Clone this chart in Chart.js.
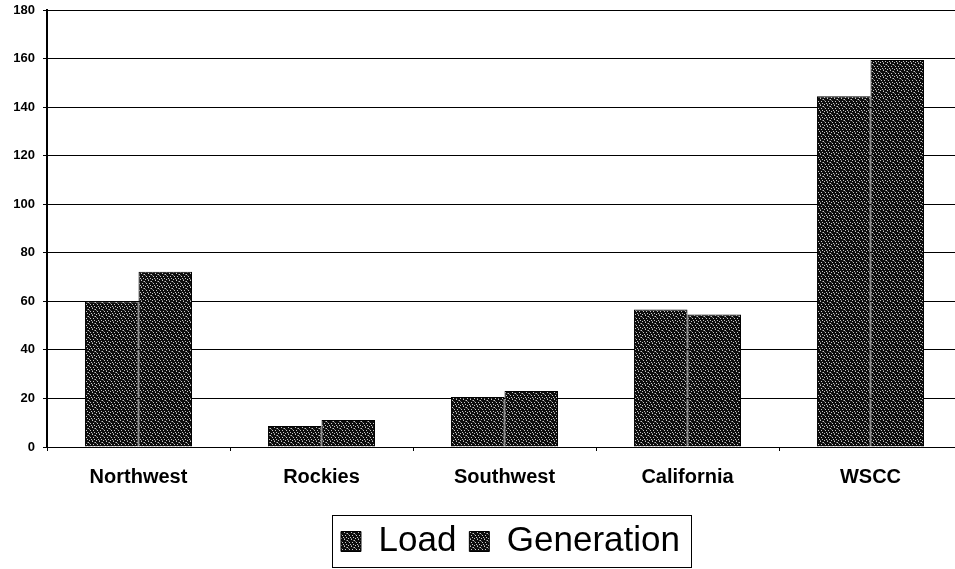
<!DOCTYPE html>
<html>
<head>
<meta charset="utf-8">
<script src="https://cdn.jsdelivr.net/npm/chart.js@4/dist/chart.umd.min.js"></script>
<style>
html,body{margin:0;padding:0;background:#fff;overflow:hidden;}
#wrap{width:955px;height:569px;position:relative;overflow:hidden;}
#c{position:absolute;left:0;top:0;}
</style>
</head>
<body>
<div id="wrap"><canvas id="c" width="962" height="569"></canvas></div>
<script>
const categories = ["Northwest", "Rockies", "Southwest", "California", "WSCC"];
const loadValues = [60, 8.7, 20.6, 56.6, 144.5];
const generationValues = [72.2, 11.1, 23.1, 54.6, 159.4];
const yTicks = [0, 20, 40, 60, 80, 100, 120, 140, 160, 180];

// stipple texture (fixed dot layout, purely decorative)
function makeStipple() {
  const c = document.createElement('canvas');
  c.width = 7; c.height = 7;
  const g = c.getContext('2d');
  g.fillStyle = '#0d0d0d';
  g.fillRect(0, 0, 7, 7);
  g.fillStyle = '#c8c8c8';
  const dots = [[1,0],[4,1],[6,3],[2,3],[0,5],[3,5],[5,6]];
  dots.forEach(([x, y]) => g.fillRect(x, y, 1, 1));
  g.fillStyle = '#6a6a6a';
  [[5,2],[1,6],[3,1]].forEach(([x, y]) => g.fillRect(x, y, 1, 1));
  return g.createPattern(c, 'repeat');
}
const stipple = makeStipple();

const legendShift = {
  id: 'legendShift',
  afterLayout(chart) {
    const lg = chart.legend;
    if (lg) { lg.left += 6; lg.right += 6; }
  }
};

const legendBorder = {
  id: 'legendBorder',
  afterDraw(chart) {
    const lg = chart.legend;
    if (!lg || !lg.legendHitBoxes || !lg.legendHitBoxes.length) return;
    const hb = lg.legendHitBoxes;
    const x0 = Math.min(...hb.map(h => h.left)) - 9;
    const x1 = Math.max(...hb.map(h => h.left + h.width)) + 11;
    const y0 = Math.min(...hb.map(h => h.top)) - 9;
    const y1 = Math.max(...hb.map(h => h.top + h.height)) + 8;
    const ctx = chart.ctx;
    ctx.save();
    ctx.strokeStyle = '#000';
    ctx.lineWidth = 1;
    ctx.strokeRect(Math.round(x0) + 0.5, Math.round(y0) + 0.5, Math.round(x1 - x0), Math.round(y1 - y0));
    ctx.restore();
  }
};

new Chart(document.getElementById('c'), {
  type: 'bar',
  data: {
    labels: categories,
    datasets: [
      { label: 'Load', data: loadValues, backgroundColor: stipple, borderColor: '#000', borderWidth: 1, categoryPercentage: 0.585, barPercentage: 1.0 },
      { label: 'Generation', data: generationValues, backgroundColor: stipple, borderColor: '#000', borderWidth: 1, categoryPercentage: 0.585, barPercentage: 1.0 }
    ]
  },
  options: {
    responsive: false,
    animation: false,
    devicePixelRatio: 1,
    layout: { padding: { top: 0, right: 0, left: 0, bottom: 0 } },
    plugins: {
      tooltip: { enabled: false },
      legend: {
        position: 'bottom',
        fullSize: false,
        labels: {
          color: '#000',
          font: { family: 'Liberation Sans, Arial, sans-serif', size: 35 },
          boxWidth: 20,
          boxHeight: 20,
          padding: 13,
          generateLabels(chart) {
            return chart.data.datasets.map((ds, i) => ({
              text: ds.label,
              fillStyle: stipple,
              strokeStyle: '#000',
              lineWidth: 1,
              datasetIndex: i,
              hidden: false
            }));
          }
        }
      }
    },
    scales: {
      x: {
        afterFit(scale) { scale.height = 64; },
        grid: { display: true, drawOnChartArea: false, drawTicks: true, tickLength: 4, color: '#000', offset: true },
        border: { display: false },
        ticks: {
          color: '#000',
          font: { family: 'Liberation Sans, Arial, sans-serif', size: 20, weight: 'bold' },
          padding: 14,
          maxRotation: 0
        }
      },
      y: {
        min: 0,
        max: 180,
        afterFit(scale) { scale.width = 47; scale.paddingTop = 10; },
        afterBuildTicks(scale) { scale.ticks = yTicks.map(v => ({ value: v })); },
        grid: { color: '#000', lineWidth: 1, drawTicks: true, tickLength: 4 },
        border: { display: true, color: '#000', width: 2 },
        ticks: {
          color: '#000',
          font: { family: 'Liberation Sans, Arial, sans-serif', size: 13, weight: 'bold' },
          padding: 8
        }
      }
    }
  },
  plugins: [legendShift, legendBorder]
});
</script>
</body>
</html>
